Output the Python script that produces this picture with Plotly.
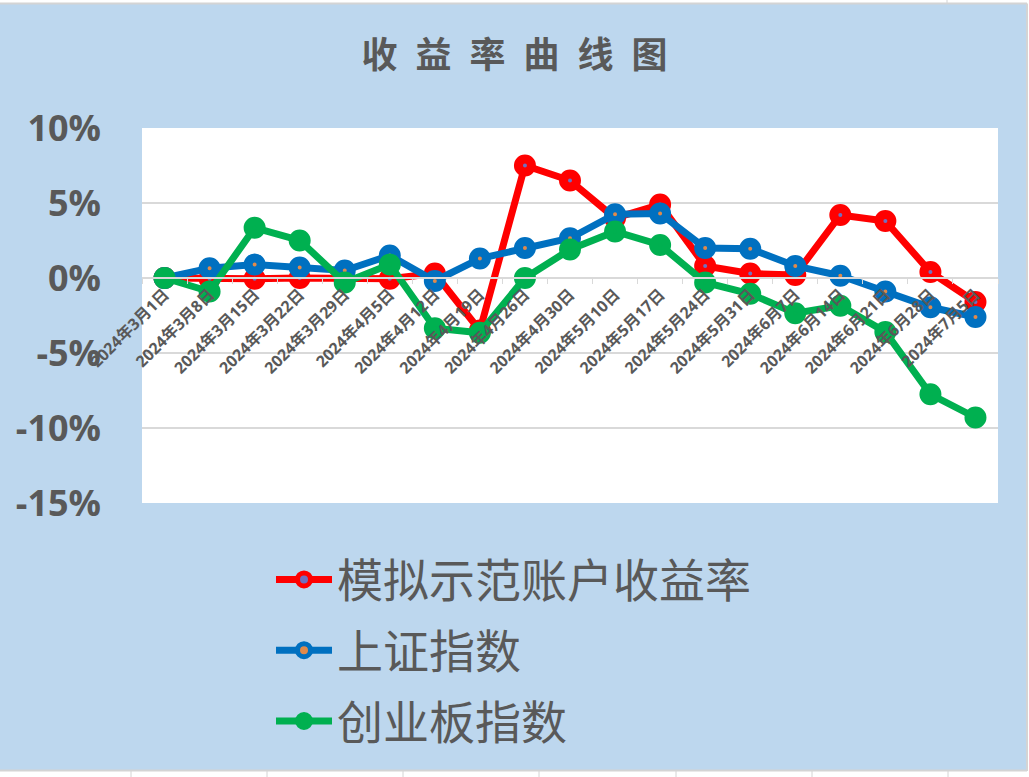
import plotly.graph_objects as go

# weekly dates (category axis)
dates = ['2024年3月1日', '2024年3月8日', '2024年3月15日', '2024年3月22日', '2024年3月29日',
         '2024年4月5日', '2024年4月12日', '2024年4月19日', '2024年4月26日', '2024年4月30日',
         '2024年5月10日', '2024年5月17日', '2024年5月24日', '2024年5月31日', '2024年6月7日',
         '2024年6月14日', '2024年6月21日', '2024年6月28日', '2024年7月5日']

# returns in percent
demo_account = [0.0, -0.05, -0.05, 0.0, -0.05, -0.05, 0.3, -3.5, 7.5, 6.5,
                4.0, 4.9, 0.8, 0.3, 0.2, 4.2, 3.8, 0.4, -1.6]
sse_index = [0.0, 0.65, 0.9, 0.7, 0.5, 1.5, -0.2, 1.3, 2.0, 2.65,
             4.25, 4.3, 2.0, 1.95, 0.8, 0.15, -0.9, -1.95, -2.6]
chinext_index = [0.0, -0.9, 3.35, 2.5, -0.3, 0.9, -3.35, -3.65, 0.0, 1.9,
                 3.1, 2.2, -0.3, -1.05, -2.35, -1.85, -3.6, -7.75, -9.3]

series_names = ['模拟示范账户收益率', '上证指数', '创业板指数']
y_ticks = [10, 5, 0, -5, -10, -15]

GRAY = '#595959'
BG = '#BDD7EE'
CJK = 'Noto Sans CJK SC'

# plot area in pixels, used to place the sheet-edge decorations
L, R, T, B = 142, 998, 128, 503
W, H = 1029, 777


def px_x(px):
    return (px - L) / (R - L)


def px_y(py):
    return (B - py) / (B - T)


fig = go.Figure()

styles = [('#FF0000', '#7070C0'), ('#0070C0', '#E08A4B'), ('#00B050', '#00B050')]
for name, vals, (col, inner) in zip(series_names, [demo_account, sse_index, chinext_index], styles):
    fig.add_trace(go.Scatter(
        x=dates, y=vals, name=name, mode='lines+markers',
        legendgroup=name,
        line=dict(color=col, width=7),
        marker=dict(size=13, color=inner, line=dict(color=col, width=9)),
        hoverinfo='skip',
    ))

# white spreadsheet strips around the chart object
shapes = [
    dict(type='rect', xref='paper', yref='paper', x0=px_x(0), x1=px_x(W), y0=px_y(0), y1=px_y(3.5),
         fillcolor='white', line_width=0),
    dict(type='rect', xref='paper', yref='paper', x0=px_x(1026), x1=px_x(W), y0=px_y(0), y1=px_y(H),
         fillcolor='white', line_width=0),
    dict(type='rect', xref='paper', yref='paper', x0=px_x(0), x1=px_x(W), y0=px_y(771), y1=px_y(H),
         fillcolor='white', line_width=0),
    dict(type='line', xref='paper', yref='paper', x0=px_x(0), x1=px_x(1027), y0=px_y(770.5), y1=px_y(770.5),
         line=dict(color='#D4D4D4', width=2)),
    dict(type='line', xref='paper', yref='paper', x0=px_x(1027), x1=px_x(1027), y0=px_y(3.5), y1=px_y(771),
         line=dict(color='#D4D4D4', width=2)),
    dict(type='line', xref='paper', yref='paper', x0=px_x(0), x1=px_x(1027), y0=px_y(3.5), y1=px_y(3.5),
         line=dict(color='#D4D4D4', width=2)),
]
for cx in [131, 267, 403, 539, 676, 812, 948]:
    shapes.append(dict(type='line', xref='paper', yref='paper', x0=px_x(cx), x1=px_x(cx),
                       y0=px_y(771), y1=px_y(H), line=dict(color='#D4D4D4', width=1)))
shapes.append(dict(type='line', xref='paper', yref='paper', x0=px_x(947), x1=px_x(947),
                   y0=px_y(0), y1=px_y(3), line=dict(color='#D4D4D4', width=1)))

fig.update_layout(
    width=W, height=H,
    margin=dict(l=L, r=W - R, t=T, b=H - B),
    paper_bgcolor=BG,
    plot_bgcolor='white',
    title=dict(text='收\u2002益\u2002率\u2002曲\u2002线\u2002图', x=0.5, xanchor='center',
               y=1 - 55 / H, yanchor='middle', yref='container',
               font=dict(family=CJK, size=36, color=GRAY, weight='bold')),
    showlegend=True,
    legend=dict(orientation='v', x=px_x(271), xanchor='left', y=px_y(543), yanchor='top',
                bgcolor='rgba(0,0,0,0)', font=dict(family=CJK, size=46, color=GRAY),
                itemwidth=56, tracegroupgap=8),
    shapes=shapes,
    xaxis=dict(
        type='category', range=[-0.5, len(dates) - 0.5],
        anchor='free', position=(0 - y_ticks[-1]) / (y_ticks[0] - y_ticks[-1]),
        showgrid=False, showline=True, linecolor='#D9D9D9', linewidth=1.5,
        tickson='boundaries', ticks='outside', ticklen=5, tickcolor='#D9D9D9',
        tickangle=-45,
        tickfont=dict(family='Open Sans, ' + CJK, size=16, color=GRAY, weight='bold'),
    ),
    yaxis=dict(
        range=[y_ticks[-1], y_ticks[0]], tickvals=y_ticks,
        ticktext=[f'{v}%' for v in y_ticks],
        showgrid=True, gridcolor='#D9D9D9', gridwidth=1.5, zeroline=False,
        showline=False, ticklabelstandoff=40,
        tickfont=dict(family='Open Sans', size=36, color=GRAY, weight='bold'),
    ),
)

# the page itself has no margin, so the chart fills the window
fig.write_html('out.html', config={'displayModeBar': False},
               post_script="document.body.style.margin='0';")
